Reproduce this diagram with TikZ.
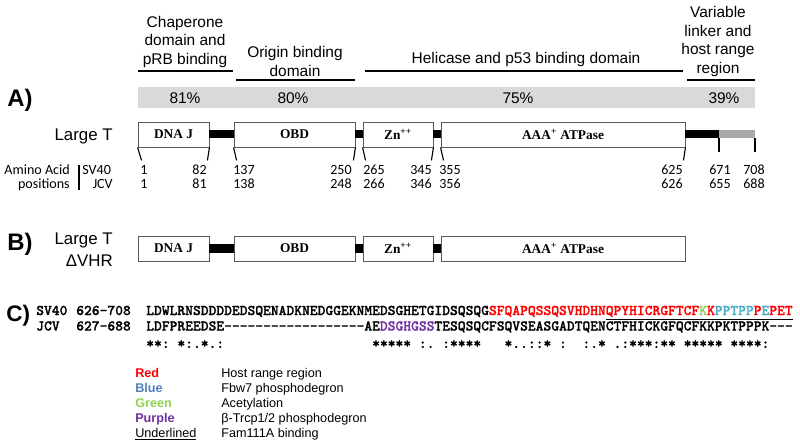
\documentclass[tikz,border=0pt]{standalone}
\usepackage{fontspec}
\setmainfont{Liberation Sans}
\setmonofont{lmmonolt10-bold.otf}[FakeBold=1.2]
\newfontfamily\carlito{Carlito}
\newfontfamily\boxserif{Liberation Serif}
\definecolor{bargray}{RGB}{217,217,217}
\definecolor{tailgray}{RGB}{170,170,170}
\definecolor{seqred}{RGB}{255,0,0}
\definecolor{seqgreen}{RGB}{146,208,80}
\definecolor{seqblue}{RGB}{75,172,198}
\definecolor{keyblue}{RGB}{79,129,189}
\definecolor{seqpurple}{RGB}{112,48,160}
\newcommand\boxfont{\boxserif\bfseries\fontsize{9.5}{11}\selectfont}
\begin{document}
\begin{tikzpicture}[x=0.025cm, y=-0.025cm,
  dom/.style={draw=black!65, line width=0.6pt, fill=white, inner sep=0pt, minimum height=0.625cm, font=\boxfont},
  linker/.style={line width=0.2cm},
  tickmark/.style={line width=0.8pt},
  hline/.style={line width=1.2pt},
  head/.style={align=center, font={\fontsize{11}{13.5}\selectfont}},
  pct/.style={font={\fontsize{11}{13}\selectfont}},
  part/.style={font={\fontsize{17}{20}\selectfont\bfseries}, anchor=base west, inner sep=0pt},
  prot/.style={font={\fontsize{12}{14}\selectfont}, anchor=base east, inner sep=0pt},
  aapos/.style={font={\carlito\fontsize{10}{12}\selectfont}, inner sep=0pt},
  seq/.style={font={\ttfamily\fontsize{10.55}{12}\selectfont}, anchor=base west, inner sep=0pt},
  keytext/.style={font={\fontsize{9}{11}\selectfont}, anchor=base west, inner sep=0pt}]

\useasboundingbox (0,0) rectangle (800,445);

% domain headers
\node at (185,42) [head] (chap) {Chaperone\\domain and\\pRB binding};
\node at (295,61.5) [head] (orig) {Origin binding\\domain};
\node at (526,60) [head] (heli) {Helicase and p53 binding domain};
\node at (718,41.5) [head] (vari) {Variable\\linker and\\host range\\region};
\draw[hline] (138,71) -- (233,71);
\draw[hline] (236,80) -- (355,80);
\draw[hline] (365,71) -- (683,71);
\draw[hline] (687,80) -- (755,80);

% identity bar
\fill[bargray] (138,87) rectangle (755,108);
\node at (185,98) [pct] (p81) {81\%};
\node at (293,98) [pct] (p80) {80\%};
\node at (518,98) [pct] (p75) {75\%};
\node at (724,98) [pct] (p39) {39\%};

% A) full-length large T
\node at (7,106.5) [part] (partA) {A)};
\node at (113,141) [prot] (ltA) {Large T};
\node at (173.5,134.5) [dom, minimum width=1.775cm] (dnajA) {DNA J};
\node at (294.5,134.5) [dom, minimum width=3.025cm] (obdA) {OBD};
\node at (398,134.5) [dom, minimum width=1.75cm] (znA) {Zn\textsuperscript{++}};
\node at (563,134.5) [dom, minimum width=6.1cm] (aaaA) {AAA\textsuperscript{+} ATPase};
\coordinate (tailA) at (719,134.5);
\coordinate (endA) at (755,134.5);
\draw[linker] (dnajA.east) -- (obdA.west);
\draw[linker] (obdA.east) -- (znA.west);
\draw[linker] (znA.east) -- (aaaA.west);
\draw[linker] (aaaA.east) -- (tailA);
\draw[linker, draw=tailgray] (tailA) -- (endA);

\draw[tickmark] (dnajA.south west) -- ++(4,13);
\draw[tickmark] (dnajA.south east) -- ++(-2,13);
\draw[tickmark] (obdA.south west) -- ++(3,13);
\draw[tickmark] (obdA.south east) -- ++(-2,13);
\draw[tickmark] (znA.south west) -- ++(3,13);
\draw[tickmark] (znA.south east) -- ++(-2,13);
\draw[tickmark] (aaaA.south west) -- ++(3,13);
\draw[tickmark] (aaaA.south east) -- ++(-2,13);
\draw[tickmark] (tailA) ++(0,4) -- ++(0,14);
\draw[tickmark] (endA) ++(0,4) -- ++(0,14);

% amino acid positions
\node at (70,174.5) [aapos, anchor=base east] (aa1) {Amino Acid};
\node at (70,188.5) [aapos, anchor=base east] (aa2) {positions};
\draw[line width=1.2pt] (79,165) -- (79,190);
\node at (82,174.5) [aapos, anchor=base west] (sv) {SV40};
\node at (113,188.5) [aapos, anchor=base east] (jc) {JCV};

\node at (140,174.5) [aapos, anchor=base west] (s1) {1};
\node at (207,174.5) [aapos, anchor=base east] (s82) {82};
\node at (233,174.5) [aapos, anchor=base west] (s137) {137};
\node at (352,174.5) [aapos, anchor=base east] (s250) {250};
\node at (363,174.5) [aapos, anchor=base west] (s265) {265};
\node at (432,174.5) [aapos, anchor=base east] (s345) {345};
\node at (439,174.5) [aapos, anchor=base west] (s355) {355};
\node at (683,174.5) [aapos, anchor=base east] (s625) {625};
\node at (720,174.5) [aapos, anchor=base] (s671) {671};
\node at (754,174.5) [aapos, anchor=base] (s708) {708};

\node at (140,188.5) [aapos, anchor=base west] (j1) {1};
\node at (207,188.5) [aapos, anchor=base east] (j81) {81};
\node at (233,188.5) [aapos, anchor=base west] (j138) {138};
\node at (352,188.5) [aapos, anchor=base east] (j248) {248};
\node at (363,188.5) [aapos, anchor=base west] (j266) {266};
\node at (432,188.5) [aapos, anchor=base east] (j346) {346};
\node at (439,188.5) [aapos, anchor=base west] (j356) {356};
\node at (683,188.5) [aapos, anchor=base east] (j626) {626};
\node at (720,188.5) [aapos, anchor=base] (j655) {655};
\node at (754,188.5) [aapos, anchor=base] (j688) {688};

% B) large T without VHR
\node at (7,250.5) [part] (partB) {B)};
\node at (113,244) [prot] (ltB) {Large T};
\node at (113,266) [prot] (dvhr) {ΔVHR};
\node at (173.5,248.5) [dom, minimum width=1.775cm] (dnajB) {DNA J};
\node at (294.5,248.5) [dom, minimum width=3.025cm] (obdB) {OBD};
\node at (398,248.5) [dom, minimum width=1.75cm] (znB) {Zn\textsuperscript{++}};
\node at (563,248.5) [dom, minimum width=6.1cm] (aaaB) {AAA\textsuperscript{+} ATPase};
\draw[linker] (dnajB.east) -- (obdB.west);
\draw[linker] (obdB.east) -- (znB.west);
\draw[linker] (znB.east) -- (aaaB.west);

% C) alignment
\node at (6,321) [part, font={\fontsize{16}{19}\selectfont\bfseries}] (partC) {C)};
\node at (36,315) [seq] (svname) {SV40};
\node at (76,315) [seq] (svrange) {626-708};
\node at (36,330.5) [seq] (jcname) {JCV};
\node at (76,330.5) [seq] (jcrange) {627-688};
\node at (146,315) [seq] (svseq) {LDWLRNSDDDDEDSQENADKNEDGGEKNMEDSGHETGIDSQSQG\textcolor{seqred}{SFQAPQSSQSVHDHN}\underline{\textcolor{seqred}{QPYHICRGFTCF}\textcolor{seqgreen}{K}\textcolor{seqred}{K}\textcolor{seqblue}{PPTPP}\textcolor{seqred}{P}\textcolor{seqblue}{E}\textcolor{seqred}{PET}}};
\node at (146,330.5) [seq] (jcseq) {LDFPREEDSE------------------AE\textcolor{seqpurple}{DSGHGSS}TESQSQCFSQVSEASGADTQENCTFHICKGFQCFKKPKTPPPK---};
\node at (146,348) [seq] (cons) {**:~*:.*.:~~~~~~~~~~~~~~~~~~~*****~:.~:****~~~*..::*~:~~:.*~.:***:**~*****~****:};

% key
\node at (135,377.5) [keytext, font={\fontsize{9}{11}\selectfont\bfseries}, text=seqred] (kred) {Red};
\node at (135,392) [keytext, font={\fontsize{9}{11}\selectfont\bfseries}, text=keyblue] (kblue) {Blue};
\node at (135,407) [keytext, font={\fontsize{9}{11}\selectfont\bfseries}, text=seqgreen] (kgreen) {Green};
\node at (135,422) [keytext, font={\fontsize{9}{11}\selectfont\bfseries}, text=seqpurple] (kpurple) {Purple};
\node at (135,437) [keytext] (kunder) {\underline{Underlined}};
\node at (221,377.5) [keytext] (dred) {Host range region};
\node at (221,392) [keytext] (dblue) {Fbw7 phosphodegron};
\node at (221,407) [keytext] (dgreen) {Acetylation};
\node at (221,422) [keytext] (dpurple) {β-Trcp1/2 phosphodegron};
\node at (221,437) [keytext] (dunder) {Fam111A binding};

\end{tikzpicture}
\end{document}
